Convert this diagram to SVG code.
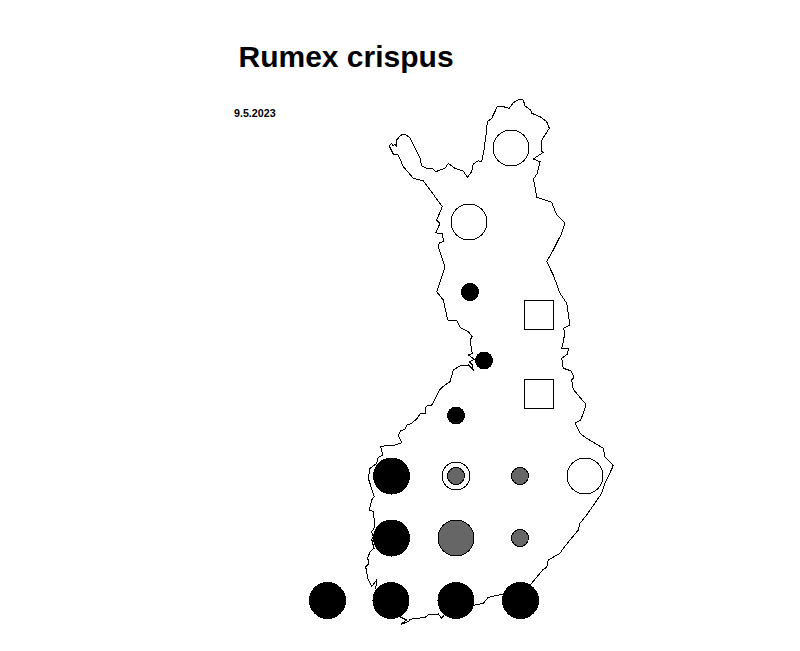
<svg xmlns="http://www.w3.org/2000/svg" width="800" height="651" viewBox="0 0 800 651">
<style>
text{font-family:"Liberation Sans",Arial,sans-serif;font-weight:bold;fill:#000}
.m{fill:none;stroke:#000;stroke-width:1;shape-rendering:crispEdges}
.s{stroke:#000;stroke-width:1;shape-rendering:crispEdges}
.o{fill:#fff}.k{fill:#000}.g{fill:#666}
</style>
<text x="238.500" y="67" font-size="30">Rumex crispus</text>
<text x="234" y="117" font-size="10.700">9.5.2023</text>
<path id="finland" class="m" d="M389.300 146L391.700 143.300L393 146L395 144L396.700 146.700L396.700 140L400 136L403.300 134L406 135L410 137.700L413 144L415 148.300L420 158.300L421.700 166L426.700 168.300L433.300 169L435.700 171.700L445 168.300L448.300 163.300L455 168.300L463.300 171L467.300 177.300L471.700 171.700L473.300 164L478.300 160.700L481.700 161.700L484 150L486 135L487.300 121.700L491.700 118.300L497.300 106.700L503.300 106.700L509.300 108.300L513.300 102.700L519.300 99.300L523.300 100L525 106L530.700 110L531.700 113.300L540 116.700L546.700 121.700L549.300 128.300L545 135L541 141.700L541 150.700L543.300 152.300L533.300 159L540 161.700L537.300 173.300L533.300 179.300L535 186.700L536.700 197.300L551.700 202.300L556.700 215L565 223.300L561.700 233.300L553.300 250L546.700 261.700L553.300 275L560 293.300L566.700 303.300L568 312L570 325L563.300 328.300L565 331.700L563.300 341.700L561.700 348.300L568.300 348.300L567.700 354L561.700 358.300L563.300 368.300L570.700 370.700L574 377.300L571.700 380L573.300 389.300L585 403.300L585 408.300L580.700 420L575 423.300L580 433.300L586.700 438.300L603.300 448.300L605 456.700L613.300 465.700L605 483.300L601.700 493.300L586.700 515L580 523.300L578.300 530L563.300 548.300L560 553.300L548.300 560L546.700 567.300L543.300 569.300L531 584L520 590L503.300 594L488.300 597.300L483.300 603.300L475 605L455 610L445 614L441.700 618.300L438.300 614L428.300 615L425 617.300L410 619.300L408.300 621.700L400.700 624.300L406.700 620L401 617.300L390 610L375.700 588.300L376.700 580L371.700 586.700L367.700 578.300L365.700 566.700L369 563.300L367.700 558.300L370 551.700L374 548.300L371.700 539.300L373.300 536.700L371.700 531.700L375 526.700L373.300 511.700L369.300 510L371.700 500L374.300 496.700L368.300 478.300L370 468.300L376.700 463.300L378.300 457.300L382.700 455L380.700 446.700L388.300 445L395 445L401.700 442.700L398.300 435L400.700 430.700L405 429.300L406.700 425L411.700 423.300L417.300 418.300L420 414L425.700 413.300L425.700 407.300L428.300 405L431.700 405L434 401L436.700 395.700L440 389.300L445 385L450 381.700L453.300 370L460 366L468.300 365L473.300 370L472.300 365L469.300 361.700L474.300 359.300L468.300 355L472.300 353.300L470 340L472.300 336.700L468.300 331.700L460 327.300L456.700 320.700L447.700 320L443.300 300L436.700 291.700L441.700 276.700L445 266.700L438.300 246.700L439.300 242.700L443.300 241.700L442.700 234L435.700 232.700L440 223.300L436.700 220L442.300 206.700L435 196.700L423.300 180.700L413.300 178.300L403.300 166.700L398.300 155L393.300 154Z"/>
<g id="sym1"><circle class="s o" cx="511" cy="148" r="18"/></g>
<g id="sym2"><circle class="s o" cx="469" cy="222" r="18"/></g>
<g id="sym3"><circle class="s k" cx="470" cy="292" r="8.500"/></g>
<g id="sym4"><rect class="s o" x="524.500" y="300.500" width="29" height="29"/></g>
<g id="sym5"><circle class="s k" cx="484" cy="360.500" r="8.500"/></g>
<g id="sym6"><rect class="s o" x="524.500" y="379.500" width="29" height="29"/></g>
<g id="sym7"><circle class="s k" cx="456" cy="415.500" r="8.500"/></g>
<g id="sym8"><circle class="s k" cx="391.500" cy="476" r="18"/></g>
<g id="sym9"><circle class="s o" cx="456" cy="476" r="14"/><circle class="s g" cx="456" cy="476" r="8.500"/></g>
<g id="sym10"><circle class="s g" cx="520" cy="476" r="8.500"/></g>
<g id="sym11"><circle class="s o" cx="585" cy="476" r="18"/></g>
<g id="sym12"><circle class="s k" cx="391.500" cy="538" r="18"/></g>
<g id="sym13"><circle class="s g" cx="456" cy="538" r="18"/></g>
<g id="sym14"><circle class="s g" cx="520" cy="538" r="8.500"/></g>
<g id="sym15"><circle class="s k" cx="327.500" cy="600.500" r="18"/></g>
<g id="sym16"><circle class="s k" cx="391" cy="600.500" r="18"/></g>
<g id="sym17"><circle class="s k" cx="456" cy="600.500" r="18"/></g>
<g id="sym18"><circle class="s k" cx="520.500" cy="600.500" r="18"/></g>
</svg>
